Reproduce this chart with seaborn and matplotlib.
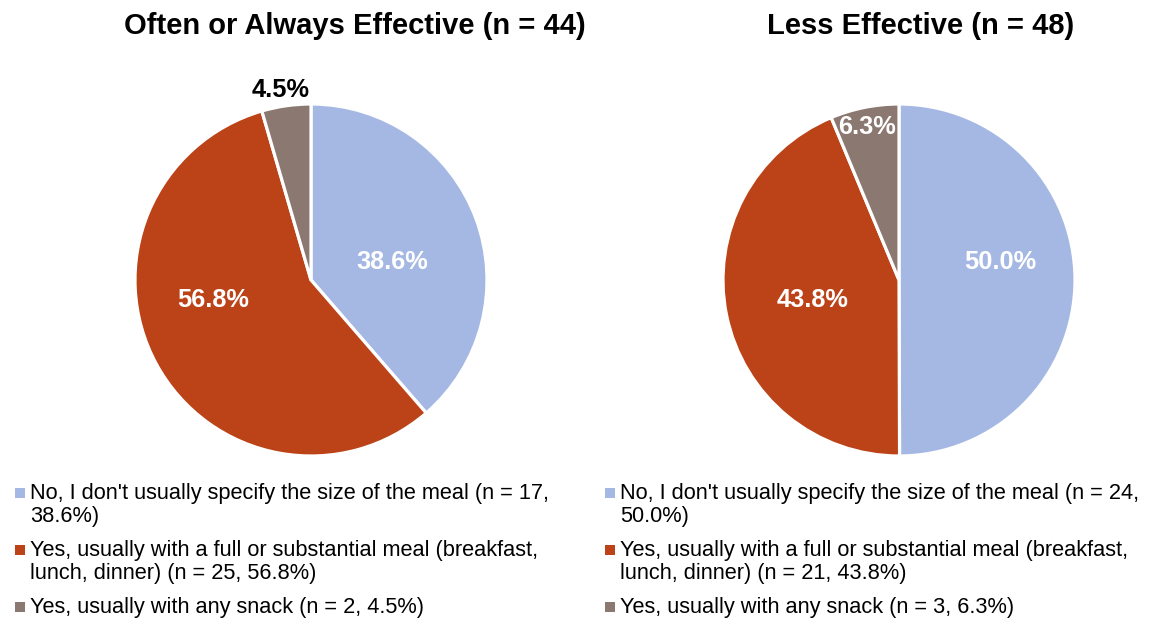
import matplotlib
matplotlib.use("Agg")
import matplotlib.pyplot as plt
from matplotlib.patches import Rectangle
import seaborn as sns

# Survey answers, one pie per effectiveness group
categories = [
    "No, I don't usually specify the size of the meal",
    "Yes, usually with a full or substantial meal (breakfast, lunch, dinner)",
    "Yes, usually with any snack",
]
group_titles = ["Often or Always Effective (n = 44)", "Less Effective (n = 48)"]
effective_counts = [17, 25, 2]
effective_pct = [38.6, 56.8, 4.5]
less_counts = [24, 21, 3]
less_pct = [50.0, 43.8, 6.3]

sns.set_theme(style="white")
plt.rcParams["font.family"] = ["Liberation Sans", "DejaVu Sans"]

colors = ["#A5B8E3", "#BC4218", "#8B7870"]
W, H = 1150, 619
fig = plt.figure(figsize=(W / 100, H / 100), dpi=100)
fig.patch.set_facecolor("white")

R = 176  # pie radius, px


def px_axes(cx, cy, r):
    return fig.add_axes([(cx - r) / W, (H - cy - r) / H, 2 * r / W, 2 * r / H])


# label placement in units of the pie radius (x, y, colour)
label_layout = [
    [(0.46, 0.10, "white"), (-0.557, -0.114, "white"), (-0.170, 1.077, "black")],
    [(0.578, 0.102, "white"), (-0.489, -0.114, "white"), (-0.182, 0.87, "white")],
]

# legend wrap points for each group
legend_lines = [
    [
        f"{categories[0]} (n = {effective_counts[0]},\n{effective_pct[0]:.1f}%)",
        "Yes, usually with a full or substantial meal (breakfast,\n"
        f"lunch, dinner) (n = {effective_counts[1]}, {effective_pct[1]:.1f}%)",
        f"{categories[2]} (n = {effective_counts[2]}, {effective_pct[2]:.1f}%)",
    ],
    [
        f"{categories[0]} (n = {less_counts[0]},\n{less_pct[0]:.1f}%)",
        "Yes, usually with a full or substantial meal (breakfast,\n"
        f"lunch, dinner) (n = {less_counts[1]}, {less_pct[1]:.1f}%)",
        f"{categories[2]} (n = {less_counts[2]}, {less_pct[2]:.1f}%)",
    ],
]

groups = [effective_pct, less_pct]
centers = [(311, 280), (899, 280)]
title_x = [355, 921]
legend_x = [15, 605]
entry_y = [493, 550, 607]
LINE_GAP = 23  # px between wrapped legend lines

for gi, (pct, (cx, cy)) in enumerate(zip(groups, centers)):
    ax = px_axes(cx, cy, R)
    ax.pie(pct, colors=colors, startangle=90, counterclock=False, radius=1,
           wedgeprops=dict(edgecolor="white", linewidth=2.3))
    ax.set_xlim(-1, 1)
    ax.set_ylim(-1, 1)
    ax.set_aspect("equal")
    ax.axis("off")
    for (lx, ly, col), v in zip(label_layout[gi], pct):
        ax.text(lx, ly, f"{v:.1f}%", ha="center", va="center", color=col,
                fontsize=18.3, fontweight="bold", clip_on=False)

    fig.text(title_x[gi] / W, 1 - 34 / H, group_titles[gi], ha="center",
             va="baseline", fontsize=21, fontweight="bold", color="black")

    for ci, (txt, y) in enumerate(zip(legend_lines[gi], entry_y)):
        sx = legend_x[gi]
        fig.patches.append(Rectangle((sx / W, (H - y - 4.5) / H), 9.5 / W, 9.5 / H,
                                     transform=fig.transFigure, facecolor=colors[ci],
                                     edgecolor="none"))
        n_extra = txt.count("\n")
        # each line is placed on its own baseline so the wrap spacing is exact
        for li, line in enumerate(txt.split("\n")):
            fig.text((sx + 15) / W, 1 - (y + 6 + li * LINE_GAP) / H, line,
                     ha="left", va="baseline", fontsize=15.7, color="black")

fig.savefig("out.png", dpi=100, facecolor="white")
